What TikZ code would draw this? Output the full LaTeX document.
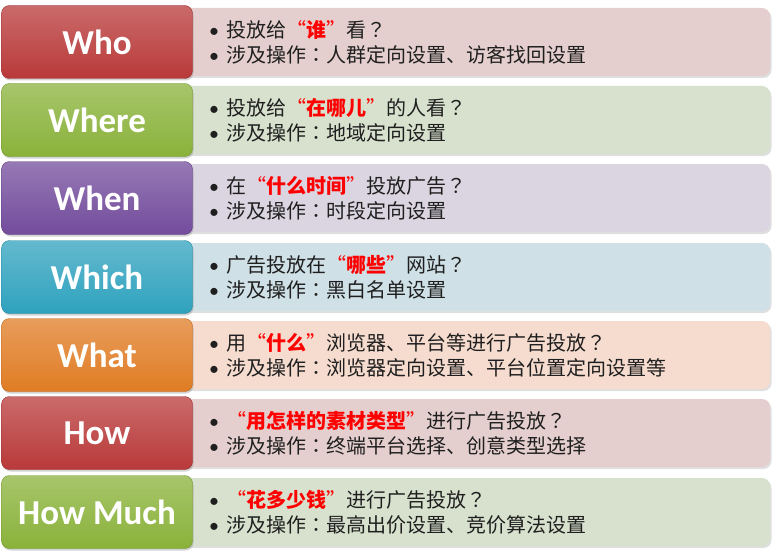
\documentclass[tikz,border=0pt]{standalone}
\usepackage{fontspec}
\setsansfont{Carlito}
\newfontfamily\cjk{Noto Sans CJK SC}
\newfontfamily\cjktc{Noto Sans CJK TC}
\usepackage{tikz}
\usetikzlibrary{shadows}
\definecolor{tagred}{HTML}{B93939}
\definecolor{taggreen}{HTML}{8AB23A}
\definecolor{tagpurple}{HTML}{734C9C}
\definecolor{tagcyan}{HTML}{2FA2BE}
\definecolor{tagorange}{HTML}{E07C24}
\definecolor{bgred}{HTML}{E4CFCE}
\definecolor{bggreen}{HTML}{D8E1CE}
\definecolor{bgpurple}{HTML}{DAD5E0}
\definecolor{bgcyan}{HTML}{CFE0E6}
\definecolor{bgorange}{HTML}{F6DCCF}
\tikzstyle{tag}=[rounded corners=8pt,minimum width=191pt,minimum height=73pt,inner sep=0pt,
    text=white,font=\sffamily\bfseries\fontsize{35}{35}\selectfont,
    drop shadow={opacity=0.35,shadow xshift=1pt,shadow yshift=-2pt}]
\tikzstyle{panel}=[rounded corners=8pt,minimum width=600pt,minimum height=68pt,inner sep=0pt,
    drop shadow={opacity=0.25,shadow xshift=1.5pt,shadow yshift=-2pt}]
\tikzstyle{lines}=[anchor=west,align=left,inner sep=0pt,text=black!88,
    font=\cjk\fontsize{20}{25}\selectfont]
\newcommand{\hl}[1]{\textcolor{red}{“{\bfseries #1}”}}
\newcommand{\bul}{{\sffamily\textbullet}\hspace{7pt}}
\newcommand{\zc}{{\cjktc ：}}
\newcommand{\zq}{{\cjktc ？}}

\begin{document}
\begin{tikzpicture}[x=1pt,y=-1pt]
    \useasboundingbox (0,0) rectangle (774,551);
    % First the light panels behind
    \foreach \y/\name/\bg in {42/who/bgred, 120/where/bggreen, 198/when/bgpurple,
        277/which/bgcyan, 355/what/bgorange, 433/how/bgred, 512/howmuch/bggreen}
        \node[panel,fill=\bg] (\name p) at (470,\y) {};
    % Then the coloured tags on top
    \foreach \name/\lab/\col in {who/Who/tagred, where/Where/taggreen, when/When/tagpurple,
        which/Which/tagcyan, what/What/tagorange, how/How/tagred, howmuch/How Much/taggreen}
        \node[tag,draw=\col!85!black,top color=\col!75!white,bottom color=\col]
            (\name) at (97,0 |- \name p) {\lab};
    % Two bullet lines in each panel
    \foreach \name/\one/\two in {
        who/{投放给\hl{谁}看\zq}/{涉及操作\zc 人群定向设置、访客找回设置},
        where/{投放给\hl{在哪儿}的人看\zq}/{涉及操作\zc 地域定向设置},
        when/{在\hl{什么时间}投放广告\zq}/{涉及操作\zc 时段定向设置},
        which/{广告投放在\hl{哪些}网站\zq}/{涉及操作\zc 黑白名单设置},
        what/{用\hl{什么}浏览器、平台等进行广告投放\zq}/{涉及操作\zc 浏览器定向设置、平台位置定向设置等},
        how/{\hl{用怎样的素材类型}进行广告投放\zq}/{涉及操作\zc 终端平台选择、创意类型选择},
        howmuch/{\hl{花多少钱}进行广告投放\zq}/{涉及操作\zc 最高出价设置、竞价算法设置}}
        \node[lines] (\name t) at (209,0 |- \name p) {\bul\one\\\bul\two};
\end{tikzpicture}
\end{document}
